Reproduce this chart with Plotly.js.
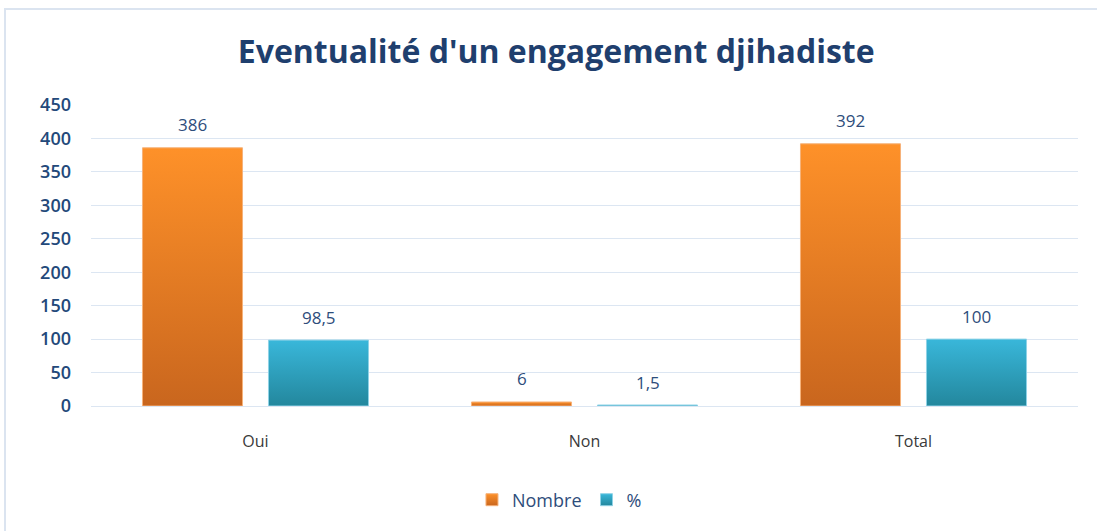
<!DOCTYPE html>
<html><head><meta charset="utf-8">
<script src="https://cdn.plot.ly/plotly-3.0.1.min.js"></script>
<style>
html,body{margin:0;padding:0;background:#fff;}
#wrap{position:relative;width:1097px;height:531px;}
#chart{width:1097px;height:531px;}
#frame{position:absolute;left:4px;top:8px;width:1100px;height:530px;border-left:2px solid #dbe4f0;border-top:2px solid #dbe4f0;pointer-events:none;}
</style></head>
<body>
<div id="wrap"><div id="chart"></div><div id="frame"></div></div>
<script>
const categories = ["Oui", "Non", "Total"];
const nombre = [386, 6, 392];
const pourcent = [98.5, 1.5, 100];
const nombreLabels = ["386", "6", "392"];
const pourcentLabels = ["98,5", "1,5", "100"];
const seriesNames = ["Nombre", "%"];

const labelColor = "#2e4d7b";
const traces = [
  {type:"bar", name:seriesNames[0], x:categories, y:nombre,
   marker:{color:"#e8822a", line:{color:"#f6b27a", width:1}}, hoverinfo:"none"},
  {type:"bar", name:seriesNames[1], x:categories, y:pourcent,
   marker:{color:"#2ea3c4", line:{color:"#8fd2e6", width:1}}, hoverinfo:"none"}
];

const annotations = [];
categories.forEach((c,i)=>{
  annotations.push({x:c, y:nombre[i], xref:"x", yref:"y", text:nombreLabels[i], showarrow:false,
    xshift:-63, yshift:23, yanchor:"middle", font:{family:"Open Sans, sans-serif", size:17, color:labelColor}});
  annotations.push({x:c, y:pourcent[i], xref:"x", yref:"y", text:pourcentLabels[i], showarrow:false,
    xshift:63, yshift:23, yanchor:"middle", font:{family:"Open Sans, sans-serif", size:17, color:labelColor}});
});

const layout = {
  width:1097, height:531,
  margin:{l:91, r:19, t:105, b:125},
  paper_bgcolor:"rgba(0,0,0,0)", plot_bgcolor:"#fff",
  title:{text:"<b>Eventualité d'un engagement djihadiste</b>", xref:"container", x:0.507, xanchor:"center",
    yref:"container", y:1-52/531, yanchor:"middle",
    font:{family:"Open Sans, sans-serif", size:32, color:"#1f3f6e"}},
  barmode:"group", bargap:0.234, bargroupgap:0.206,
  xaxis:{type:"category", showgrid:false, showline:false, zeroline:false, ticks:"",
    tickfont:{family:"Open Sans, sans-serif", size:16, color:"#3a3a3a"}, ticklabelstandoff:24},
  yaxis:{range:[0,450], dtick:50, showgrid:true, gridcolor:"#dce6f2", gridwidth:1,
    zeroline:true, zerolinecolor:"#dce6f2", zerolinewidth:1, showline:false, ticks:"",
    tickfont:{family:"Open Sans, sans-serif", size:18, color:"#23497a", weight:600}, ticklabelstandoff:19},
  showlegend:true,
  legend:{orientation:"h", xref:"container", yref:"container", x:0.51, xanchor:"center", y:1-500/531, yanchor:"middle",
    font:{family:"Open Sans, sans-serif", size:18, color:labelColor}, itemwidth:30, traceorder:"normal"},
  annotations:annotations
};

Plotly.newPlot("chart", traces, layout, {displayModeBar:false, staticPlot:true}).then(gd=>{
  const svg = gd.querySelector("svg.main-svg");
  const ns = "http://www.w3.org/2000/svg";
  let defs = svg.querySelector("defs");
  if(!defs){defs = document.createElementNS(ns,"defs"); svg.insertBefore(defs, svg.firstChild);}
  function grad(id, top, bot){
    const g = document.createElementNS(ns,"linearGradient");
    g.setAttribute("id",id); g.setAttribute("x1","0"); g.setAttribute("y1","0"); g.setAttribute("x2","0"); g.setAttribute("y2","1");
    [[0,top],[1,bot]].forEach(([o,c])=>{const s=document.createElementNS(ns,"stop"); s.setAttribute("offset",o); s.setAttribute("stop-color",c); g.appendChild(s);});
    defs.appendChild(g);
  }
  grad("gO","#fe9129","#c9661e");
  grad("gT","#39b7da","#23879d");
  const ids=["gO","gT"];
  gd.querySelectorAll(".barlayer .trace").forEach((t,i)=>{
    t.querySelectorAll("path").forEach(p=>{p.style.fill="url(#"+ids[i]+")";});
  });
  gd.querySelectorAll(".legend .traces").forEach((t,i)=>{
    t.querySelectorAll(".legendpoints path").forEach(p=>{p.style.fill="url(#"+ids[i]+")";});
  });
});
</script>
</body></html>
